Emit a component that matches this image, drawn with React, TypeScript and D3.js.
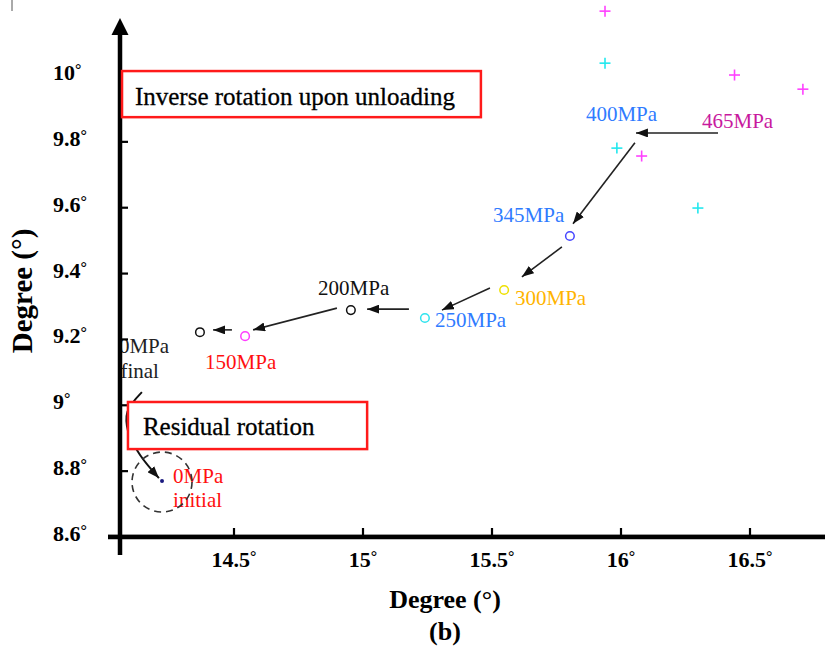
import React from "react";
import * as d3 from "d3";

// ---- data (in axis units, degrees) ----
const xTicks = [14.5, 15, 15.5, 16, 16.5];
const xTickLabels = ["14.5", "15", "15.5", "16", "16.5"];
const yTicks = [8.6, 8.8, 9.0, 9.2, 9.4, 9.6, 9.8, 10];
const yTickLabels = ["8.6", "8.8", "9", "9.2", "9.4", "9.6", "9.8", "10"];

// unloading path circles: 0MPa final, 150, 200, 250, 300, 345 MPa
const circleNames = ["0MPa final", "150MPa", "200MPa", "250MPa", "300MPa", "345MPa"];
const circleX = [14.368, 14.543, 14.953, 15.24, 15.547, 15.802];
const circleY = [9.222, 9.21, 9.289, 9.265, 9.35, 9.514];
const circleColors = ["#111111", "#ff3cff", "#111111", "#2fe3ee", "#eee000", "#4646ff"];

// initial state
const initialX = [14.221];
const initialY = [8.77];

// plus markers (400MPa cyan / 465MPa magenta)
const plusSeries = ["465", "400", "465", "465", "400", "465", "400"];
const plusX = [15.938, 15.938, 16.44, 16.705, 15.984, 16.08, 16.298];
const plusY = [10.197, 10.039, 10.003, 9.96, 9.781, 9.757, 9.599];

// arrows between stress states
const arrowFromX = [16.376, 16.054, 15.771, 15.492, 15.178, 14.899, 14.492];
const arrowFromY = [9.827, 9.797, 9.481, 9.356, 9.292, 9.295, 9.229];
const arrowToX = [16.058, 15.814, 15.616, 15.306, 15.016, 14.574, 14.419];
const arrowToY = [9.827, 9.551, 9.39, 9.289, 9.292, 9.229, 9.229];

// curved residual arrow
const curveX = [14.143, 14.087, 14.09, 14.136, 14.209];
const curveY = [9.04, 8.98, 8.919, 8.849, 8.779];

// stress labels
const labelTexts = ["400MPa", "465MPa", "345MPa", "300MPa", "250MPa", "200MPa", "150MPa", "0MPa", "final", "0MPa", "initial"];
const labelX = [15.864, 16.314, 15.504, 15.589, 15.279, 14.826, 14.388, 14.054, 14.06, 14.264, 14.264];
const labelY = [9.863, 9.842, 9.557, 9.305, 9.238, 9.335, 9.11, 9.159, 9.083, 8.764, 8.691];
const labelColors = ["#2f7bff", "#c8199e", "#2f7bff", "#ffb400", "#2f7bff", "#111111", "#ff1010", "#222222", "#222222", "#ff1010", "#ff1010"];

// annotation boxes
const boxTexts = ["Inverse rotation upon unloading", "Residual rotation"];
const boxX0 = [14.066, 14.089];
const boxX1 = [15.457, 15.016];
const boxY0 = [10.015, 9.01];
const boxY1 = [9.875, 8.867];
const boxTextX = [14.116, 14.147];
const boxTextY = [9.912, 8.91];

const W = 825;
const H = 647;

export default function App() {
  const x = d3.scaleLinear().domain([14.5, 16.5]).range([234, 750]);
  const y = d3.scaleLinear().domain([8.6, 10]).range([537, 76]);
  const axisX = 120;
  const axisY = y(8.6);
  const serif = "'Liberation Serif', 'Times New Roman', serif";

  const curvePath = d3
    .line<number>()
    .x((_, i) => x(curveX[i]))
    .y((_, i) => y(curveY[i]))
    .curve(d3.curveCatmullRom)(curveX.map((_, i) => i)) || "";

  return (
    <svg width={W} height={H} style={{ position: "absolute", left: 0, top: 0, background: "#fff" }} fontFamily={serif}>
      <defs>
        <marker id="ah" viewBox="0 0 12 9" refX="12" refY="4.5" markerWidth="12" markerHeight="9" markerUnits="userSpaceOnUse" orient="auto">
          <path d="M0,0 L12,4.5 L0,9 z" fill="#111" />
        </marker>
      </defs>
      <rect x={0} y={0} width={W} height={H} fill="#fff" />
      {/* small artifact */}
      <line x1={12} y1={0} x2={12} y2={11} stroke="#555" strokeWidth={1} />

      {/* stress labels */}
      {labelTexts.map((t, i) => (
        <text key={"l" + i} x={x(labelX[i])} y={y(labelY[i])} fontSize={21} fill={labelColors[i]}>
          {t}
        </text>
      ))}

      {/* arrows */}
      {arrowFromX.map((_, i) => (
        <line
          key={"a" + i}
          x1={x(arrowFromX[i])}
          y1={y(arrowFromY[i])}
          x2={x(arrowToX[i])}
          y2={y(arrowToY[i])}
          stroke="#222"
          strokeWidth={1.6}
          markerEnd="url(#ah)"
        />
      ))}

      {/* curved residual arrow */}
      <path d={curvePath} fill="none" stroke="#111" strokeWidth={2} markerEnd="url(#ah)" />

      {/* dashed circle around initial */}
      <circle cx={x(initialX[0])} cy={y(initialY[0]) + 1} r={30} fill="none" stroke="#333" strokeWidth={1.6} strokeDasharray="7,5" />
      <circle cx={x(initialX[0])} cy={y(initialY[0])} r={2} fill="#1a1a80" />

      {/* circles */}
      {circleX.map((cx, i) => (
        <circle key={"c" + i} cx={x(cx)} cy={y(circleY[i])} r={4.3} fill="none" stroke={circleColors[i]} strokeWidth={1.5} />
      ))}

      {/* plus markers */}
      {plusX.map((px, i) => {
        const cx = x(px), cy = y(plusY[i]);
        const c = plusSeries[i] === "400" ? "#22e8ee" : "#ff40ff";
        return (
          <g key={"p" + i} stroke={c} strokeWidth={1.6}>
            <line x1={cx - 5.5} y1={cy} x2={cx + 5.5} y2={cy} />
            <line x1={cx} y1={cy - 5.5} x2={cx} y2={cy + 5.5} />
          </g>
        );
      })}

      {/* axes */}
      <line x1={108} y1={axisY - 2} x2={W} y2={axisY - 2} stroke="#999" strokeWidth={1} />
      <line x1={108} y1={axisY} x2={W} y2={axisY} stroke="#000" strokeWidth={4.5} />
      <line x1={axisX} y1={32} x2={axisX} y2={555} stroke="#000" strokeWidth={4.5} />
      <path d={`M${axisX},18 L${axisX + 8.5},35 L${axisX - 8.5},35 Z`} fill="#000" />
      {xTicks.map((t, i) => (
        <g key={"xt" + i}>
          <line x1={x(t)} y1={axisY} x2={x(t)} y2={axisY - 9} stroke="#000" strokeWidth={2.2} />
          <text x={x(t)} y={567} textAnchor="middle" fontSize={22} fontWeight="bold" fill="#000">
            {xTickLabels[i]}
            <tspan fontSize={16} dy={-5}>°</tspan>
          </text>
        </g>
      ))}
      {yTicks.map((t, i) => (
        <g key={"yt" + i}>
          <line x1={axisX} y1={y(t)} x2={axisX + 8} y2={y(t)} stroke="#000" strokeWidth={2.2} />
          <text x={53} y={y(t) + 4} fontSize={22} fontWeight="bold" fill="#000">
            {yTickLabels[i]}
            <tspan fontSize={16} dy={-5}>°</tspan>
          </text>
        </g>
      ))}

      {/* boxes */}
      {boxTexts.map((t, i) => (
        <g key={"b" + i}>
          <rect
            x={x(boxX0[i])}
            y={y(boxY0[i])}
            width={x(boxX1[i]) - x(boxX0[i])}
            height={y(boxY1[i]) - y(boxY0[i])}
            fill="#fff"
            stroke="#ff1a1a"
            strokeWidth={2.5}
          />
          <text x={x(boxTextX[i])} y={y(boxTextY[i])} fontSize={25} fill="#000" stroke="#000" strokeWidth={0.3}>
            {t}
          </text>
        </g>
      ))}

      {/* axis titles */}
      <text x={445} y={608} textAnchor="middle" fontSize={26} fontWeight="bold" fill="#000">
        Degree (°)
      </text>
      <text x={445} y={640} textAnchor="middle" fontSize={26} fontWeight="bold" fill="#000">
        (b)
      </text>
      <text transform={`translate(32,291) rotate(-90)`} textAnchor="middle" fontSize={29} fontWeight="bold" fill="#000">
        Degree (°)
      </text>
    </svg>
  );
}
